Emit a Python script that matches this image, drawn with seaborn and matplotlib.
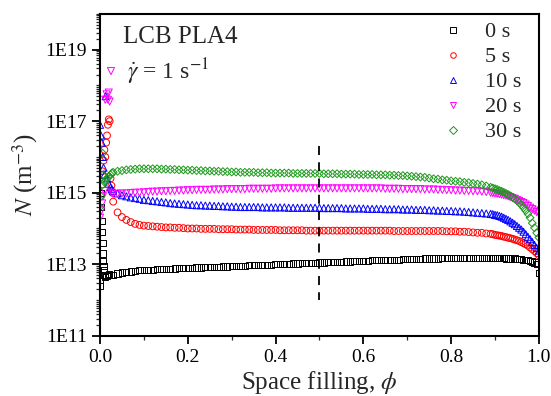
import matplotlib
matplotlib.use("Agg")
import matplotlib.pyplot as plt
import matplotlib.ticker as mticker
from matplotlib.lines import Line2D
import numpy as np
import pandas as pd
import seaborn as sns

# shared space-filling grid (phi) after the initial transient
phi = [0.03, 0.04, 0.05, 0.06, 0.07, 0.08, 0.09, 0.10,
       0.11, 0.12, 0.13, 0.14, 0.15, 0.16, 0.17, 0.18, 0.19, 0.20,
       0.21, 0.22, 0.23, 0.24, 0.25, 0.26, 0.27, 0.28, 0.29, 0.30,
       0.31, 0.32, 0.33, 0.34, 0.35, 0.36, 0.37, 0.38, 0.39, 0.40,
       0.41, 0.42, 0.43, 0.44, 0.45, 0.46, 0.47, 0.48, 0.49, 0.50,
       0.51, 0.52, 0.53, 0.54, 0.55, 0.56, 0.57, 0.58, 0.59, 0.60,
       0.61, 0.62, 0.63, 0.64, 0.65, 0.66, 0.67, 0.68, 0.69, 0.70,
       0.71, 0.72, 0.73, 0.74, 0.75, 0.76, 0.77, 0.78, 0.79, 0.80,
       0.81, 0.82, 0.83, 0.84, 0.85, 0.86, 0.87, 0.88, 0.89,
       0.895, 0.90, 0.905, 0.91, 0.915, 0.92, 0.925, 0.93, 0.935, 0.94,
       0.945, 0.95, 0.955, 0.96, 0.965, 0.97, 0.975, 0.98, 0.985, 0.99,
       0.995, 1.0]

log_n_0s = [12.70, 12.74, 12.77, 12.78, 12.80, 12.81, 12.83, 12.84,
            12.84, 12.85, 12.86, 12.86, 12.87, 12.87, 12.88, 12.89, 12.89, 12.90,
            12.90, 12.91, 12.91, 12.92, 12.92, 12.93, 12.93, 12.94, 12.94, 12.95,
            12.95, 12.96, 12.96, 12.97, 12.97, 12.98, 12.98, 12.99, 12.99, 13.00,
            13.00, 13.01, 13.01, 13.02, 13.02, 13.03, 13.03, 13.04, 13.04, 13.05,
            13.05, 13.06, 13.06, 13.07, 13.07, 13.08, 13.08, 13.09, 13.09, 13.10,
            13.10, 13.11, 13.11, 13.12, 13.12, 13.13, 13.13, 13.13, 13.14, 13.14,
            13.15, 13.15, 13.15, 13.16, 13.16, 13.16, 13.16, 13.17, 13.17, 13.17,
            13.17, 13.17, 13.17, 13.17, 13.17, 13.17, 13.17, 13.17, 13.17,
            13.17, 13.17, 13.17, 13.17, 13.17, 13.17, 13.16, 13.16, 13.16, 13.16,
            13.16, 13.15, 13.15, 13.14, 13.13, 13.12, 13.11, 13.10, 13.08, 13.05,
            13.00, 12.75]
log_n_5s = [14.75, 14.45, 14.32, 14.24, 14.18, 14.13, 14.10, 14.08,
            14.07, 14.06, 14.05, 14.04, 14.03, 14.03, 14.02, 14.02, 14.01, 14.00,
            14.00, 14.00, 13.99, 13.99, 13.99, 13.99, 13.98, 13.98, 13.98, 13.98,
            13.97, 13.97, 13.97, 13.97, 13.96, 13.96, 13.96, 13.96, 13.96, 13.96,
            13.95, 13.95, 13.95, 13.95, 13.95, 13.95, 13.94, 13.94, 13.94, 13.94,
            13.94, 13.94, 13.94, 13.94, 13.94, 13.94, 13.94, 13.94, 13.94, 13.94,
            13.94, 13.94, 13.94, 13.94, 13.94, 13.94, 13.93, 13.93, 13.93, 13.93,
            13.93, 13.93, 13.93, 13.93, 13.93, 13.93, 13.93, 13.93, 13.92, 13.92,
            13.92, 13.91, 13.91, 13.90, 13.89, 13.88, 13.88, 13.86, 13.85,
            13.84, 13.82, 13.81, 13.80, 13.79, 13.77, 13.76, 13.74, 13.73, 13.71,
            13.69, 13.67, 13.65, 13.62, 13.59, 13.56, 13.52, 13.47, 13.42, 13.37,
            13.31, 13.25]
log_n_10s = [15.05, 14.98, 14.93, 14.90, 14.87, 14.85, 14.83, 14.80,
             14.79, 14.77, 14.76, 14.74, 14.73, 14.71, 14.70, 14.69, 14.68, 14.67,
             14.66, 14.65, 14.65, 14.64, 14.64, 14.63, 14.63, 14.62, 14.62, 14.61,
             14.61, 14.60, 14.60, 14.60, 14.60, 14.60, 14.59, 14.59, 14.59, 14.59,
             14.59, 14.59, 14.58, 14.58, 14.58, 14.58, 14.58, 14.58, 14.58, 14.58,
             14.57, 14.57, 14.57, 14.57, 14.57, 14.56, 14.56, 14.56, 14.56, 14.56,
             14.55, 14.55, 14.55, 14.55, 14.54, 14.54, 14.54, 14.54, 14.53, 14.53,
             14.53, 14.52, 14.52, 14.52, 14.51, 14.51, 14.50, 14.50, 14.49, 14.49,
             14.48, 14.48, 14.47, 14.46, 14.45, 14.44, 14.43, 14.42, 14.41,
             14.40, 14.38, 14.37, 14.35, 14.33, 14.30, 14.27, 14.24, 14.20, 14.16,
             14.12, 14.07, 14.02, 13.97, 13.91, 13.84, 13.77, 13.70, 13.62, 13.54,
             13.46, 13.38]
log_n_20s = [14.97, 14.97, 14.98, 14.98, 14.99, 15.00, 15.00, 15.01,
             15.02, 15.03, 15.03, 15.04, 15.04, 15.05, 15.05, 15.06, 15.06, 15.07,
             15.07, 15.08, 15.08, 15.08, 15.08, 15.09, 15.09, 15.09, 15.10, 15.10,
             15.10, 15.10, 15.10, 15.11, 15.11, 15.11, 15.11, 15.11, 15.11, 15.12,
             15.12, 15.12, 15.12, 15.12, 15.12, 15.12, 15.12, 15.12, 15.12, 15.12,
             15.12, 15.12, 15.12, 15.12, 15.12, 15.12, 15.12, 15.12, 15.12, 15.12,
             15.12, 15.12, 15.12, 15.12, 15.11, 15.11, 15.11, 15.11, 15.10, 15.10,
             15.10, 15.10, 15.10, 15.09, 15.09, 15.09, 15.08, 15.08, 15.07, 15.07,
             15.06, 15.06, 15.05, 15.05, 15.04, 15.04, 15.03, 15.02, 15.00,
             14.99, 14.98, 14.97, 14.96, 14.95, 14.93, 14.92, 14.90, 14.88, 14.85,
             14.83, 14.80, 14.77, 14.74, 14.71, 14.67, 14.63, 14.58, 14.54, 14.50,
             14.46, 14.42]
log_n_30s = [15.57, 15.60, 15.62, 15.64, 15.65, 15.66, 15.67, 15.67,
             15.67, 15.67, 15.67, 15.66, 15.66, 15.65, 15.65, 15.64, 15.64, 15.63,
             15.63, 15.62, 15.62, 15.61, 15.61, 15.60, 15.60, 15.59, 15.59, 15.58,
             15.58, 15.57, 15.57, 15.57, 15.57, 15.56, 15.56, 15.56, 15.55, 15.55,
             15.55, 15.55, 15.55, 15.54, 15.54, 15.54, 15.54, 15.54, 15.54, 15.54,
             15.53, 15.53, 15.53, 15.53, 15.52, 15.52, 15.52, 15.52, 15.51, 15.51,
             15.51, 15.51, 15.50, 15.50, 15.50, 15.49, 15.49, 15.48, 15.48, 15.47,
             15.46, 15.45, 15.44, 15.43, 15.41, 15.39, 15.38, 15.36, 15.35, 15.33,
             15.32, 15.31, 15.29, 15.28, 15.26, 15.24, 15.22, 15.19, 15.15,
             15.13, 15.11, 15.09, 15.06, 15.04, 15.01, 14.98, 14.95, 14.91, 14.87,
             14.83, 14.78, 14.72, 14.66, 14.58, 14.50, 14.41, 14.30, 14.15, 14.02,
             13.88, 13.75]

# initial transient (phi < 0.03), scattered points near the axis
start_phi_0s = [0.0, 0.0, 0.0, 0.002, 0.003, 0.004, 0.005, 0.006, 0.006, 0.007,
                0.008, 0.009, 0.010, 0.012, 0.015, 0.018, 0.021, 0.025]
start_log_0s = [12.40, 12.55, 12.70, 15.00, 14.60, 14.20, 13.90, 13.60, 13.30, 13.10,
                12.95, 12.85, 12.70, 12.65, 12.68, 12.70, 12.72, 12.70]
start_phi_5s = [0.005, 0.008, 0.010, 0.012, 0.014, 0.016, 0.018, 0.020, 0.022, 0.024, 0.026, 0.028]
start_log_5s = [15.60, 15.90, 16.20, 16.00, 16.40, 16.60, 16.90, 17.05, 17.00, 15.40, 15.20, 15.00]
start_phi_10s = [0.0, 0.002, 0.004, 0.006, 0.008, 0.010, 0.013, 0.016, 0.020, 0.024, 0.027]
start_log_10s = [16.90, 16.60, 16.40, 16.00, 15.70, 15.50, 17.70, 15.40, 15.25, 15.15, 15.10]
start_phi_20s = [0.0, 0.003, 0.005, 0.007, 0.010, 0.012, 0.015, 0.018, 0.020, 0.022, 0.025, 0.027]
start_log_20s = [14.30, 14.50, 14.70, 14.90, 15.05, 17.60, 17.75, 17.60, 17.80, 17.55, 18.40, 15.00]
start_phi_30s = [0.0, 0.002, 0.004, 0.006, 0.008, 0.010, 0.013, 0.016, 0.020, 0.024, 0.027]
start_log_30s = [14.60, 14.90, 15.20, 16.10, 15.50, 15.30, 15.35, 15.40, 15.45, 15.50, 15.55]

labels = ["0 s", "5 s", "10 s", "20 s", "30 s"]
colors = ["#000000", "#ff0000", "#0000ff", "#ff00ff", "#1a9a1a"]
markers = ["s", "o", "^", "v", "D"]
sizes = [20, 24, 26, 26, 16]

# dashed guide at phi = 0.5
guide_phi = [0.5, 0.5]
guide_n = [2e16, 1e12]

starts_phi = [start_phi_0s, start_phi_5s, start_phi_10s, start_phi_20s, start_phi_30s]
starts_log = [start_log_0s, start_log_5s, start_log_10s, start_log_20s, start_log_30s]
mains_log = [log_n_0s, log_n_5s, log_n_10s, log_n_20s, log_n_30s]

frames = []
for lab, sp, sl, ml in zip(labels, starts_phi, starts_log, mains_log):
    frames.append(pd.DataFrame({
        "phi": sp + phi,
        "N": 10.0 ** np.array(sl + ml),
        "time": lab,
    }))
df = pd.concat(frames, ignore_index=True)

sns.set_theme(style="ticks")
plt.rcParams["font.family"] = ["Liberation Serif", "DejaVu Serif"]
plt.rcParams["mathtext.fontset"] = "stix"

fig, ax = plt.subplots(figsize=(5.51, 3.96), dpi=100)
fig.subplots_adjust(left=0.1815, right=0.978, top=0.965, bottom=0.152)

for lab, col, mk, sz in zip(labels, colors, markers, sizes):
    sub = df[df["time"] == lab]
    sns.scatterplot(data=sub, x="phi", y="N", marker=mk, s=sz,
                    facecolor="none", edgecolor=col, linewidth=0.7,
                    ax=ax, legend=False)

ax.plot(guide_phi, guide_n, color="black", linestyle=(0, (5, 4)), linewidth=1.3)

ax.set_yscale("log")
ax.set_ylim(1e11, 1e20)
ax.set_xlim(0.0, 1.0)

ax.yaxis.set_major_locator(mticker.FixedLocator([1e11, 1e13, 1e15, 1e17, 1e19]))
ax.yaxis.set_major_formatter(mticker.FuncFormatter(
    lambda v, pos: f"1E{int(round(np.log10(v)))}"))
ax.yaxis.set_minor_locator(mticker.LogLocator(base=10, subs=np.arange(1, 10), numticks=30))
ax.yaxis.set_minor_formatter(mticker.NullFormatter())
ax.xaxis.set_major_locator(mticker.MultipleLocator(0.2))
ax.xaxis.set_minor_locator(mticker.MultipleLocator(0.1))
ax.xaxis.set_major_formatter(mticker.FormatStrFormatter("%.1f"))

ax.tick_params(which="major", direction="out", length=6, width=1.3,
               labelsize=14, colors="black", top=False, right=False)
ax.tick_params(which="minor", direction="out", length=3, width=0.9,
               top=False, right=False)
for sp in ax.spines.values():
    sp.set_linewidth(1.5)
    sp.set_color("black")

ax.set_xlabel("Space filling, $\\phi$", fontsize=18, labelpad=2)
ax.set_ylabel("$N$ (m$^{-3}$)", fontsize=18, labelpad=4)

ax.text(0.052, 0.929, "LCB PLA4", transform=ax.transAxes, fontsize=18,
        va="center", ha="left")
ax.text(0.062, 0.82, "$\\dot{\\gamma}$ = 1 s$^{-1}$", transform=ax.transAxes,
        fontsize=17, va="center", ha="left")

handles = [Line2D([], [], linestyle="none", marker=mk, markersize=4,
                  markerfacecolor="none", markeredgecolor=col, markeredgewidth=0.7)
           for col, mk in zip(colors, markers)]
ax.legend(handles, labels, loc="upper left", bbox_to_anchor=(0.78, 0.975),
          frameon=False, fontsize=16, handlelength=1.0, handletextpad=0.9,
          labelspacing=0.2, borderpad=0, borderaxespad=0)

fig.savefig("out.png", dpi=100)
